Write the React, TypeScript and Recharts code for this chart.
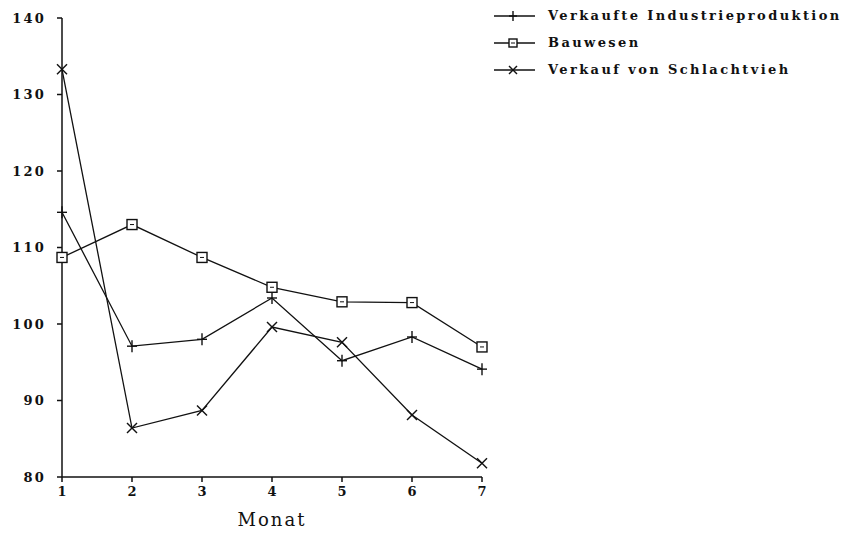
import { LineChart, Line, XAxis, YAxis } from "recharts"

const months = [1, 2, 3, 4, 5, 6, 7]
const industrie = [114.6, 97.1, 98.0, 103.4, 95.2, 98.3, 94.1]
const bauwesen = [108.7, 113.0, 108.7, 104.8, 102.9, 102.8, 97.0]
const schlachtvieh = [133.3, 86.4, 88.7, 99.6, 97.6, 88.1, 81.8]
const yTicks = [80, 90, 100, 110, 120, 130, 140]

const seriesNames = [
  "Verkaufte Industrieproduktion",
  "Bauwesen",
  "Verkauf von Schlachtvieh",
]

const data = months.map((m, i) => ({
  m,
  industrie: industrie[i],
  bauwesen: bauwesen[i],
  schlachtvieh: schlachtvieh[i],
}))

const INK = "#111"
const serif = "'DejaVu Serif', 'Liberation Serif', serif"

function Marker({ kind, cx, cy, r = 5 }: { kind: string; cx: number; cy: number; r?: number }) {
  if (kind === "plus") {
    return (
      <g stroke={INK} strokeWidth={1.4} fill="none">
        <line x1={cx - r} y1={cy} x2={cx + r} y2={cy} />
        <line x1={cx} y1={cy - r - 1} x2={cx} y2={cy + r + 1} />
      </g>
    )
  }
  if (kind === "square") {
    return (
      <g stroke={INK} strokeWidth={1.4} fill="#fff">
        <rect x={cx - r} y={cy - r} width={2 * r} height={2 * r} />
        <line x1={cx - 2} y1={cy} x2={cx + 2} y2={cy} strokeWidth={1} />
      </g>
    )
  }
  return (
    <g stroke={INK} strokeWidth={1.4} fill="none">
      <line x1={cx - r} y1={cy - r} x2={cx + r} y2={cy + r} />
      <line x1={cx - r} y1={cy + r} x2={cx + r} y2={cy - r} />
    </g>
  )
}

const kinds = ["plus", "square", "cross"]

function dotFor(kind: string) {
  return (props: any) => {
    const { cx, cy, index } = props
    if (cx == null || cy == null) return <g key={index} />
    return <Marker key={index} kind={kind} cx={cx} cy={cy} />
  }
}

function LegendBox() {
  return (
    <div
      style={{
        position: "absolute",
        left: 494,
        top: 2,
        fontFamily: serif,
        fontWeight: 700,
        fontSize: 13,
        color: INK,
      }}
    >
      {seriesNames.map((name, i) => (
        <div key={name} style={{ display: "flex", alignItems: "center", height: 27 }}>
          <svg width={42} height={14} style={{ marginRight: 12 }}>
            <line x1={0} y1={7} x2={41} y2={7} stroke={INK} strokeWidth={1.3} />
            <Marker kind={kinds[i]} cx={19} cy={7} r={4} />
          </svg>
          <span style={{ letterSpacing: 2.4, whiteSpace: "nowrap" }}>{name}</span>
        </div>
      ))}
    </div>
  )
}

export default function App() {
  return (
    <div style={{ position: "absolute", left: 0, top: 0, width: 858, height: 535, background: "#fff" }}>
      <LineChart
        width={858}
        height={535}
        data={data}
        margin={{ top: 18, right: 376, bottom: 0, left: 0 }}
      >
        <XAxis
          dataKey="m"
          type="number"
          domain={[1, 7]}
          ticks={months}
          height={58}
          tickSize={5}
          tickMargin={5}
          stroke={INK}
          strokeWidth={1.5}
          tick={{ fill: INK, fontFamily: serif, fontWeight: 700, fontSize: 13 }}
          label={{
            value: "Monat",
            position: "insideBottom",
            offset: 9,
            fill: INK,
            fontFamily: serif,
            fontSize: 18,
            letterSpacing: 2,
          }}
        />
        <YAxis
          type="number"
          domain={[80, 140]}
          ticks={yTicks}
          width={62}
          tickSize={5}
          tickMargin={11}
          stroke={INK}
          strokeWidth={1.5}
          tick={{ fill: INK, fontFamily: serif, fontWeight: 700, fontSize: 13, letterSpacing: 2.2 }}
        />
        <Line
          dataKey="industrie"
          stroke={INK}
          strokeWidth={1.3}
          dot={dotFor("plus")}
          isAnimationActive={false}
        />
        <Line
          dataKey="bauwesen"
          stroke={INK}
          strokeWidth={1.3}
          dot={dotFor("square")}
          isAnimationActive={false}
        />
        <Line
          dataKey="schlachtvieh"
          stroke={INK}
          strokeWidth={1.3}
          dot={dotFor("cross")}
          isAnimationActive={false}
        />
      </LineChart>
      <LegendBox />
    </div>
  )
}
